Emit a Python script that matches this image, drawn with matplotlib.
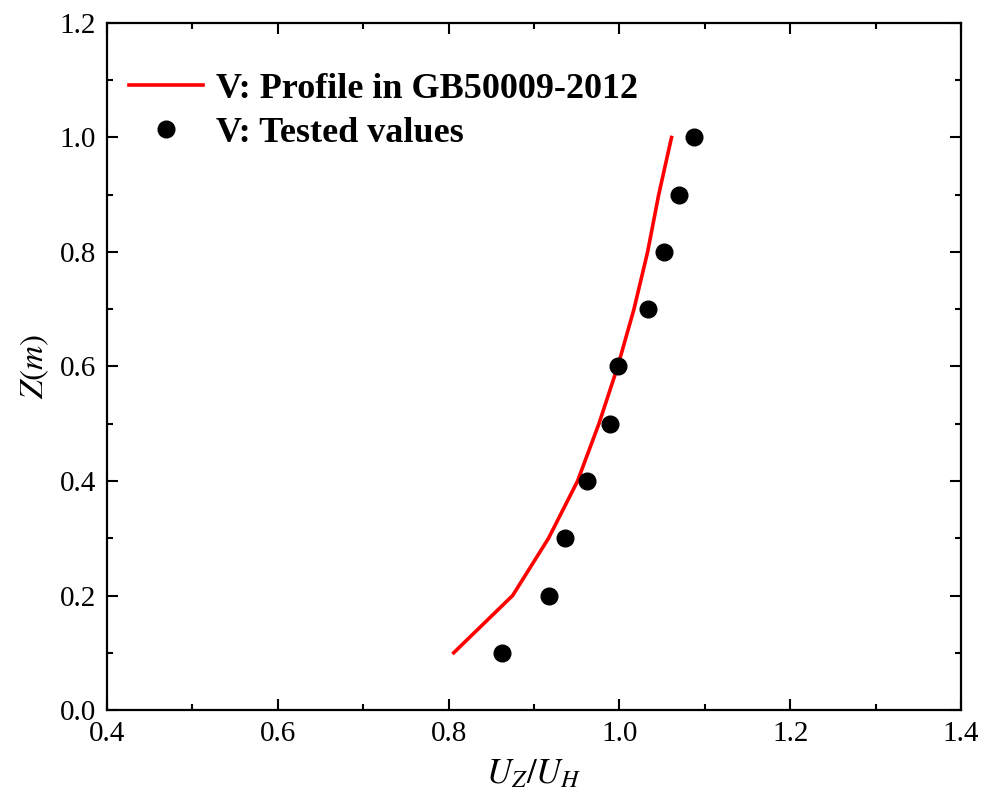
import matplotlib
matplotlib.use("Agg")
import matplotlib.pyplot as plt
from matplotlib.ticker import MultipleLocator

# Heights (m)
heights = [0.1, 0.2, 0.3, 0.4, 0.5, 0.6, 0.7, 0.8, 0.9, 1.0]
# Code profile U_Z/U_H (GB50009-2012)
profile_ratio = [0.806, 0.875, 0.917, 0.951, 0.976, 0.998, 1.017, 1.033, 1.046, 1.061]
# Measured U_Z/U_H
tested_ratio = [0.862, 0.918, 0.936, 0.962, 0.989, 0.998, 1.034, 1.052, 1.070, 1.087]

plt.rcParams['font.family'] = ['Liberation Serif', 'DejaVu Serif']
plt.rcParams['mathtext.fontset'] = 'stix'

fig = plt.figure(figsize=(9.88, 8.01), dpi=100)
ax = fig.add_axes([0.1083, 0.1136, 0.8644, 0.8577])

ax.plot(profile_ratio, heights, color='#ff0000', lw=2.6,
        label='V: Profile in GB50009-2012')
ax.plot(tested_ratio, heights, 'o', color='black', ms=12, ls='none',
        label='V: Tested values')

ax.set_xlim(0.4, 1.4)
ax.set_ylim(0.0, 1.2)
ax.xaxis.set_major_locator(MultipleLocator(0.2))
ax.xaxis.set_minor_locator(MultipleLocator(0.1))
ax.yaxis.set_major_locator(MultipleLocator(0.2))
ax.yaxis.set_minor_locator(MultipleLocator(0.1))
ax.xaxis.set_major_formatter(plt.FormatStrFormatter('%.1f'))
ax.yaxis.set_major_formatter(plt.FormatStrFormatter('%.1f'))

ax.tick_params(which='both', direction='in', top=True, right=True,
               width=1.5, labelsize=21, pad=8)
ax.tick_params(which='major', length=8)
ax.tick_params(which='minor', length=4)
for s in ax.spines.values():
    s.set_linewidth(1.6)

ax.set_xlabel(r'$U_Z/U_H$', fontsize=25, labelpad=8)
ax.set_ylabel(r'$Z(m)$', fontsize=24, labelpad=6)

leg = ax.legend(loc='upper left', bbox_to_anchor=(-0.004, 0.965), frameon=False,
                prop={'family': 'Liberation Serif', 'weight': 'bold', 'size': 26},
                handlelength=2.05, handletextpad=0.35, labelspacing=0.3,
                borderaxespad=0.3)

fig.savefig('out.png', dpi=100)
